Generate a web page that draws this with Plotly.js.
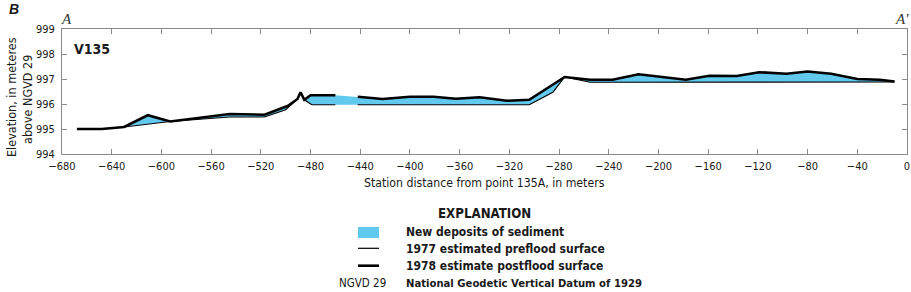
<!DOCTYPE html>
<html>
<head>
<meta charset="utf-8">
<script src="https://cdn.plot.ly/plotly-3.0.1.min.js"></script>
<style>
html,body{margin:0;padding:0;background:#fff;}
#chart{width:911px;height:292px;}
</style>
</head>
<body>
<div id="chart"></div>
<script>
// ---- Data ----
const postX = [-668, -648, -630, -611, -593, -545, -517, -498, -490.5, -488, -485, -480, -460, null,
  -442, -422, -400, -381, -363, -344, -322, -304, -275.5, -270, -255, -237, -216, -178, -159, -137,
  -119, -97, -80, -61, -40, -22, -10];
const postY = [995.0, 995.0, 995.08, 995.55, 995.3, 995.6, 995.57, 995.93, 996.2, 996.47, 996.17, 996.35, 996.35, null,
  996.29, 996.2, 996.29, 996.29, 996.21, 996.27, 996.13, 996.17, 997.08, 997.05, 996.97, 996.97, 997.19, 996.97, 997.13, 997.12,
  997.27, 997.21, 997.3, 997.21, 997.0, 996.97, 996.9];
const preX = [-668, -648, -630, -593, -545, -517, -500, -490.5, -488, -485, -479, -460, null,
  -442, -304, -285, -275.5, -255, -10];
const preY = [995.0, 995.0, 995.08, 995.3, 995.48, 995.48, 995.77, 996.2, 996.47, 996.17, 995.97, 995.97, null,
  995.97, 995.97, 996.47, 997.08, 996.87, 996.88];
const xTicks = [-680, -640, -600, -560, -520, -480, -440, -400, -360, -320, -280, -240, -200, -160, -120, -80, -40, 0];
const yTicks = [994, 995, 996, 997, 998, 999];
const legendLabels = ["New deposits of sediment", "1977 estimated preflood surface", "1978 estimate postflood surface"];
const datumAbbrev = "NGVD 29";
const datumName = "National Geodetic Vertical Datum of 1929";

// ---- Build fill polygon from the two surfaces ----
const fX = [], fY = [];
postX.forEach((x, i) => { if (x !== null) { fX.push(x); fY.push(postY[i]); } });
for (let i = preX.length - 1; i >= 0; i--) { if (preX[i] !== null) { fX.push(preX[i]); fY.push(preY[i]); } }

const BLUE = '#62c9ee';
const FONT = '"Liberation Sans Narrow", "Arial Narrow", "DejaVu Sans Condensed", sans-serif';
const INK = '#1a1a1a';
const W = 911, H = 292, L = 62, R = 907, T = 29, B = 154;
const px = x => (x - L) / (R - L);
const py = y => (B - y) / (B - T);

const traces = [
  {x: fX, y: fY, type: 'scatter', mode: 'lines', fill: 'toself', fillcolor: BLUE,
   line: {width: 0, color: BLUE}, hoverinfo: 'skip', showlegend: false},
  {x: preX, y: preY, type: 'scatter', mode: 'lines', line: {color: '#000', width: 1.2},
   connectgaps: false, showlegend: false},
  {x: postX, y: postY, type: 'scatter', mode: 'lines', line: {color: '#000', width: 2.6},
   connectgaps: false, showlegend: false}
];

function ann(text, x, y, size, opts) {
  return Object.assign({text: text, xref: 'paper', yref: 'paper', x: px(x), y: py(y),
    showarrow: false, xanchor: 'center', yanchor: 'middle',
    font: {family: FONT, size: size, color: INK}}, opts || {});
}
const SERIF = '"Liberation Serif", "Times New Roman", serif';

const annotations = [
  ann('<b><i>B</i></b>', 14, 9, 14, {font: {family: '"Liberation Sans", Arial, sans-serif', size: 14, color: INK}}),
  ann('<i>A</i>', 66.5, 19, 15, {font: {family: SERIF, size: 15, color: '#333'}}),
  ann('<i>A′</i>', 902, 19, 15, {font: {family: SERIF, size: 15, color: '#333'}}),
  ann('<b>V135</b>', 92, 48.5, 14),
  ann('Elevation, in meteres', 11, 97, 12.5, {textangle: -90}),
  ann('above NGVD 29', 27, 100, 12.5, {textangle: -90}),
  ann('Station distance from point 135A, in meters', 484, 183, 12.2),
  ann('<b>EXPLANATION</b>', 484, 213, 13.2),
  ann('<b>' + legendLabels[0] + '</b>', 404, 232.3, 12, {xanchor: 'left'}),
  ann('<b>' + legendLabels[1] + '</b>', 404, 248.5, 12, {xanchor: 'left'}),
  ann('<b>' + legendLabels[2] + '</b>', 404, 265.5, 12, {xanchor: 'left'}),
  ann(datumAbbrev, 388, 283.3, 11.5, {xanchor: 'right'}),
  ann('<b>' + datumName + '</b>', 404, 283.3, 11.2, {xanchor: 'left'})
];

const shapes = [
  {type: 'rect', xref: 'paper', yref: 'paper', x0: px(358), x1: px(379), y0: py(238), y1: py(227),
   fillcolor: BLUE, line: {width: 0}},
  {type: 'line', xref: 'paper', yref: 'paper', x0: px(358), x1: px(379), y0: py(248.3), y1: py(248.3),
   line: {color: '#000', width: 1.2}},
  {type: 'line', xref: 'paper', yref: 'paper', x0: px(358), x1: px(379), y0: py(265.7), y1: py(265.7),
   line: {color: '#000', width: 2.6}}
];

const axisCommon = {
  showgrid: false, zeroline: false, showline: true, linecolor: '#8a8a8a', linewidth: 1,
  mirror: 'ticks', ticks: 'inside', ticklen: 5, tickcolor: '#8a8a8a', tickwidth: 1,
  tickfont: {family: FONT, size: 11, color: INK}, fixedrange: true
};

const layout = {
  width: W, height: H,
  margin: {l: L, r: W - R, t: T, b: H - B, pad: 0},
  paper_bgcolor: '#fff', plot_bgcolor: '#fff',
  showlegend: false,
  xaxis: Object.assign({}, axisCommon, {range: [-680, 0], tickmode: 'array', tickvals: xTicks,
    ticktext: xTicks.map(v => v < 0 ? '\u2212' + Math.abs(v) : String(v)), ticklabelstandoff: 2}),
  yaxis: Object.assign({}, axisCommon, {range: [994, 999], tickmode: 'array', tickvals: yTicks,
    ticktext: yTicks.map(String), ticklabelstandoff: 4}),
  annotations: annotations,
  shapes: shapes
};

Plotly.newPlot('chart', traces, layout, {displayModeBar: false, staticPlot: true});
</script>
</body>
</html>
